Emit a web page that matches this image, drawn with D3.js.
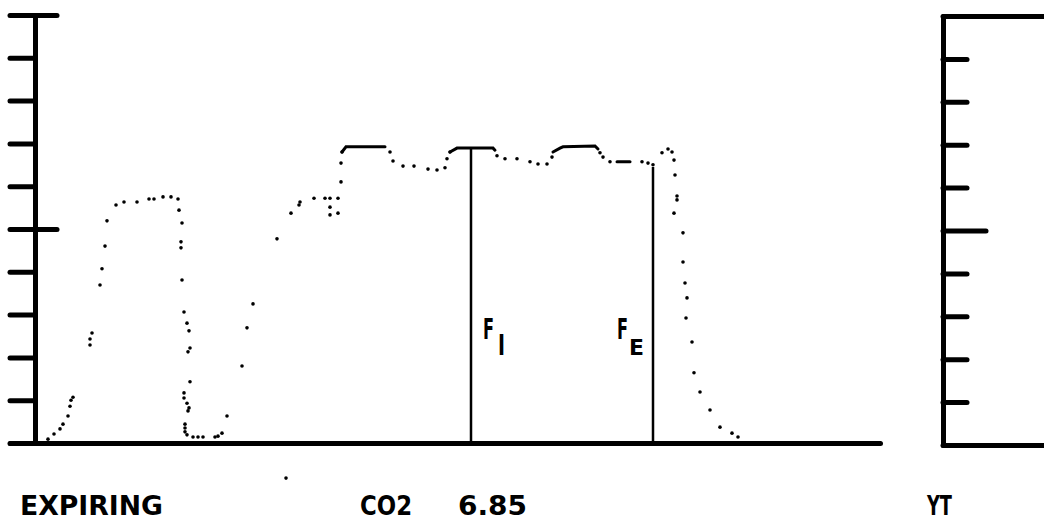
<!DOCTYPE html>
<html lang="en">

<head>
  <title>Capnogram</title>
  <script src="https://cdn.jsdelivr.net/npm/d3@7/dist/d3.min.js"></script>
  <style>
    body { margin: 0; background: #fff; }
    text { font-family: "DejaVu Sans Condensed", "Liberation Sans Narrow", sans-serif; font-weight: bold; fill: #000; }
  </style>
</head>

<body>
  <script>
    // CO2 trace, time in tenths of a second, CO2 in %
    var timeT = [1.3, 1.9, 2.5, 2.8, 3.3, 3.5, 3.6, 3.8, 5.5, 5.5, 5.7,
      6.5, 6.7, 7.0, 7.2, 8.1, 8.9, 10.2, 11.4, 11.9, 12.8, 13.6, 14.3,
      14.4, 14.7, 14.6, 14.6, 14.7, 14.9, 15.2, 15.4, 15.5, 15.3, 15.5, 14.9, 14.9, 15.2, 15.4, 15.3,
      15.0, 15.0, 15.0, 15.2, 15.8, 16.3, 16.8, 18.0, 18.3, 18.7,
      19.2, 20.7, 21.2, 21.8,
      24.2, 25.6, 26.4, 26.5, 27.9, 29.0, 29.5, 30.3, 29.5, 29.5, 30.3, 30.6, 30.6, 30.7,
      35.5, 35.8, 36.8, 37.9, 39.3, 40.2, 41.0, 41.2, 41.5,
      46.2, 47.0, 48.2, 49.5, 50.3, 51.2, 51.7,
      56.5, 56.8, 57.5,
      60.7, 61.3, 61.8, 62.7, 63.3, 63.7, 63.9, 64.0, 64.2, 64.2, 63.9, 64.8, 64.8, 65.0, 65.2, 65.1,
      65.7, 65.9, 66.5, 67.5, 68.5, 69.7, 70.3,
      25.1];
    var co2 = [0.09, 0.21, 0.33, 0.44, 0.63, 0.86, 1.00, 1.07, 2.29, 2.43, 2.57,
      3.69, 4.07, 4.60, 5.19, 5.56, 5.63, 5.63, 5.70, 5.70, 5.75, 5.75, 5.70,
      5.44, 5.14, 4.70, 4.56, 3.81, 3.06, 2.80, 2.62, 2.22, 2.13, 1.43, 1.17, 1.05, 0.93, 0.82, 0.75,
      0.44, 0.35, 0.26, 0.19, 0.14, 0.14, 0.14, 0.14, 0.16, 0.23,
      0.63, 1.80, 2.69, 3.25,
      4.77, 5.37, 5.56, 5.63, 5.72, 5.72, 5.72, 5.72, 5.51, 5.33, 5.37, 6.10, 6.54, 6.80,
      6.80, 6.59, 6.47, 6.47, 6.40, 6.38, 6.43, 6.64, 6.80,
      6.71, 6.64, 6.64, 6.57, 6.52, 6.52, 6.68,
      6.78, 6.68, 6.57,
      6.57, 6.54, 6.50, 6.78, 6.87, 6.80, 6.61, 6.26, 5.77, 5.68, 5.37, 4.91, 4.23, 3.74, 3.39, 2.92,
      2.36, 1.64, 1.19, 0.77, 0.37, 0.23, 0.14,
      -0.82];

    // solid runs of the trace (plateaus)
    var runT = [[30.7, 31.1, 35.0], [41.5, 42.2, 45.8, 46.0], [51.8, 52.5, 52.8, 56.0, 56.3], [58.2, 59.5]];
    var runV = [[6.80, 6.92, 6.92], [6.80, 6.89, 6.89, 6.84], [6.80, 6.89, 6.92, 6.94, 6.87], [6.57, 6.57]];

    // inspired / expired markers
    var markerT = [43.6, 61.8];
    var markerV = [6.89, 6.45];
    var markerMain = ["F", "F"];
    var markerSub = ["I", "E"];

    var yTicks = [0, 1, 2, 3, 4, 5, 6, 7, 8, 9, 10];
    var yMajor = [5, 10];
    var co2Reading = 6.85;
    var modeLabel = "EXPIRING";
    var gasLabel = "CO2";
    var sideLabel = "YT";

    var w = 1044;
    var h = 520;

    var x = d3.scaleLinear().domain([-2.5, 84.5]).range([10, 880]);
    var y = d3.scaleLinear().domain([0, 10]).range([443, 15]);
    var y2 = d3.scaleLinear().domain([0, 10]).range([445, 16]);

    var svg = d3.select("body").append("svg")
      .attr("width", w)
      .attr("height", h);

    svg.append("rect").attr("width", w).attr("height", h).attr("fill", "#fff");

    var axisX0 = x(0);

    // left axis: ticks to the left
    svg.append("g")
      .attr("transform", "translate(" + axisX0 + ",0)")
      .call(d3.axisLeft(y).tickValues(yTicks).tickSize(25).tickSizeOuter(0).tickFormat(""));
    // major ticks also to the right
    var leftMajor = svg.append("g")
      .attr("transform", "translate(" + axisX0 + ",0)")
      .call(d3.axisRight(y).tickValues(yMajor).tickSize(22).tickSizeOuter(0).tickFormat(""));
    leftMajor.select(".domain").remove();

    // baseline
    svg.append("g")
      .attr("transform", "translate(0," + y(0) + ")")
      .call(d3.axisBottom(x).tickValues([]).tickSizeOuter(0));

    // right panel (YT)
    var right = svg.append("g")
      .attr("transform", "translate(943,0)")
      .call(d3.axisRight(y2).tickValues(yTicks.filter(function (d) { return d !== 5; })).tickSize(24).tickSizeOuter(0).tickFormat(""));
    var rightMajor = svg.append("g")
      .attr("transform", "translate(943,0)")
      .call(d3.axisRight(y2).tickValues([5]).tickSize(43).tickSizeOuter(0).tickFormat(""));
    rightMajor.select(".domain").remove();
    right.selectAll(".tick").filter(function (d) { return d === 0 || d === 10; }).select("line").attr("x2", 110);

    svg.selectAll(".domain, .tick line")
      .attr("stroke", "#000")
      .attr("stroke-width", 5)
      .attr("stroke-linecap", "round");

    // marker lines
    svg.selectAll(".marker")
      .data(markerT)
      .enter()
      .append("line")
      .classed("marker", true)
      .attr("x1", function (d) { return x(d); })
      .attr("x2", function (d) { return x(d); })
      .attr("y1", function (d, i) { return y(markerV[i]); })
      .attr("y2", y(0))
      .attr("stroke", "#000")
      .attr("stroke-width", 2.5);

    // solid runs
    var line = d3.line()
      .x(function (d) { return x(d[0]); })
      .y(function (d) { return y(d[1]); });
    svg.selectAll(".run")
      .data(runT.map(function (ts, i) { return ts.map(function (t, j) { return [t, runV[i][j]]; }); }))
      .enter()
      .append("path")
      .classed("run", true)
      .attr("d", line)
      .attr("fill", "none")
      .attr("stroke", "#000")
      .attr("stroke-width", 3)
      .attr("stroke-linecap", "round");

    // dotted trace
    svg.selectAll(".pt")
      .data(timeT)
      .enter()
      .append("circle")
      .classed("pt", true)
      .attr("cx", function (d) { return x(d); })
      .attr("cy", function (d, i) { return y(co2[i]); })
      .attr("r", 1.8)
      .attr("fill", "#000");

    // squeeze a text to a target width with a horizontal scale
    function squeeze(sel, px, py, width) {
      sel.each(function (d, i) {
        var node = this;
        var wid = typeof width === "function" ? width(d, i) : width;
        var sx = wid / node.getComputedTextLength();
        d3.select(node).attr("transform",
          "translate(" + px(d, i) + "," + py + ") scale(" + sx + ",1)");
      });
    }

    // marker labels: narrow letter plus subscript
    var mainLab = svg.selectAll(".mlabel")
      .data(markerT)
      .enter()
      .append("text")
      .classed("mlabel", true)
      .attr("font-size", 29)
      .text(function (d, i) { return markerMain[i]; });
    squeeze(mainLab, function (d, i) { return i === 0 ? x(d) + 12 : x(d) - 36; }, 339, 11);

    var subLab = svg.selectAll(".msub")
      .data(markerT)
      .enter()
      .append("text")
      .classed("msub", true)
      .attr("font-size", function (d, i) { return i === 0 ? 28 : 21; })
      .text(function (d, i) { return markerSub[i]; });
    squeeze(subLab, function (d, i) { return i === 0 ? x(d) + 27 : x(d) - 24; }, 355,
      function (d, i) { return i === 0 ? 7 : 15; });

    // bottom readout
    var readout = [
      { t: modeLabel, x: 20, len: 143 },
      { t: gasLabel, x: 360, len: 52 },
      { t: co2Reading.toFixed(2), x: 458, len: 69 },
      { t: sideLabel, x: 927, len: 25 }
    ];
    svg.selectAll(".readout")
      .data(readout)
      .enter()
      .append("text")
      .classed("readout", true)
      .attr("x", function (d) { return d.x; })
      .attr("y", 515)
      .attr("font-size", 27)
      .attr("textLength", function (d) { return d.len; })
      .attr("lengthAdjust", "spacingAndGlyphs")
      .text(function (d) { return d.t; });
  </script>
</body>

</html>
